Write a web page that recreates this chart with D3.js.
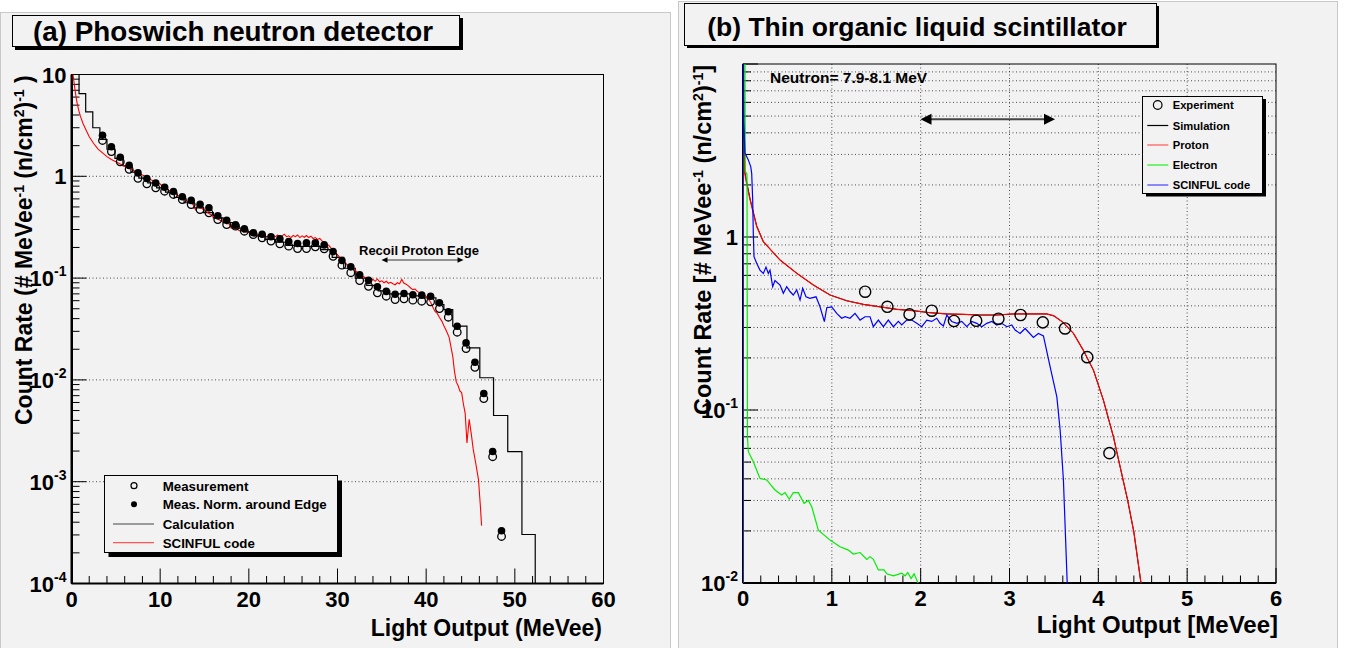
<!DOCTYPE html>
<html>
<head>
<meta charset="utf-8">
<script src="https://cdn.jsdelivr.net/npm/d3@7"></script>
<style>
body { margin: 0; background: #fff; }
text { font-family: "Liberation Sans", Arial, Helvetica, sans-serif; font-weight: bold; fill: #000; }
</style>
</head>
<body>
<div id="chart"></div>
<script>
// ---------- panel (a): phoswich ----------
let measX = [3.5, 4.5, 5.5, 6.5, 7.5, 8.5, 9.5, 10.5, 11.5, 12.5, 13.5, 14.5, 15.5, 16.5, 17.5, 18.5,
  19.5, 20.5, 21.5, 22.5, 23.5, 24.5, 25.5, 26.5, 27.5, 28.5, 29.5, 30.5, 31.5, 32.5, 33.5, 34.5,
  35.5, 36.5, 37.5, 38.5, 39.5, 40.5, 41.5, 42.5, 43.5, 44.5, 45.5, 46.5, 47.5, 48.5];
let measY = [2.25, 1.75, 1.39, 1.17, 0.957, 0.843, 0.771, 0.714, 0.663, 0.591, 0.528, 0.472, 0.438, 0.376,
  0.336, 0.324, 0.289, 0.268, 0.249, 0.231, 0.217, 0.206, 0.195, 0.195, 0.203, 0.194, 0.164, 0.134,
  0.113, 0.0946, 0.0832, 0.0716, 0.0664, 0.0616, 0.0626, 0.0607, 0.0593, 0.0585, 0.0502, 0.0413,
  0.0294, 0.0203, 0.0133, 0.00656, 0.00176, 0.00029];
let normY = [2.53, 1.95, 1.54, 1.28, 1.08, 0.95, 0.86, 0.78, 0.71, 0.63, 0.58, 0.53, 0.49, 0.41, 0.37,
  0.333, 0.305, 0.279, 0.27, 0.255, 0.243, 0.229, 0.219, 0.222, 0.222, 0.212, 0.182, 0.149, 0.129,
  0.108, 0.095, 0.082, 0.074, 0.0695, 0.0706, 0.0686, 0.068, 0.0664, 0.0571, 0.0467, 0.0337, 0.0231,
  0.0149, 0.00735, 0.00198, 0.00033];

// calculation histogram: [low edge, high edge, value]
let calcBins = [
  [0.1, 0.85, 12], [0.85, 1.6, 6.5], [1.6, 2.4, 4.3], [2.4, 3.2, 3.0], [3.2, 4.0, 2.3], [4.0, 4.9, 1.85],
  [4.9, 5.8, 1.5], [5.8, 6.7, 1.27], [6.7, 7.6, 1.1], [7.6, 8.6, 0.96], [8.6, 9.6, 0.86], [9.6, 10.6, 0.77],
  [10.6, 11.6, 0.70], [11.6, 12.7, 0.62], [12.7, 13.8, 0.55], [13.8, 14.9, 0.49], [14.9, 16.0, 0.44],
  [16.0, 17.1, 0.39], [17.1, 18.2, 0.35], [18.2, 19.4, 0.31], [19.4, 20.6, 0.285], [20.6, 21.8, 0.26],
  [21.8, 23.0, 0.24], [23.0, 24.2, 0.225], [24.2, 25.5, 0.21], [25.5, 26.8, 0.205], [26.8, 28.1, 0.205],
  [28.1, 29.4, 0.19], [29.4, 30.7, 0.16], [30.7, 32.0, 0.125], [32.0, 33.3, 0.10], [33.3, 34.6, 0.085],
  [34.6, 35.9, 0.075], [35.9, 37.2, 0.07], [37.2, 38.5, 0.07], [38.5, 39.8, 0.067], [39.8, 41.1, 0.064],
  [41.1, 42.0, 0.055], [42.0, 43.0, 0.049], [43.0, 44.6, 0.0337], [44.6, 46.05, 0.0206],
  [46.05, 47.6, 0.0105], [47.6, 49.2, 0.00447], [49.2, 50.8, 0.00197], [50.8, 52.3, 0.000303]
];

// SCINFUL code (a): [light output, rate]
let scinfulA = [
  [0.15, 10.5], [0.2, 9.5], [0.4, 7.0], [0.6, 5.4], [0.8, 4.5], [1.0, 3.9], [1.3, 3.3], [1.6, 2.9], [2.0, 2.45],
  [2.5, 2.1], [3.0, 1.85], [3.5, 1.7], [4.0, 1.56], [4.5, 1.46], [5.0, 1.39], [5.5, 1.32], [6.0, 1.25],
  [6.5, 1.2], [7.0, 1.14], [7.5, 1.08], [8.0, 1.03], [8.5, 0.98], [9.0, 0.92], [9.5, 0.88],
  [10.0, 0.84], [10.25, 0.80], [10.5, 0.79], [10.75, 0.77], [11.0, 0.72], [11.25, 0.73], [11.5, 0.69],
  [11.75, 0.68], [12.0, 0.64], [12.25, 0.65], [12.5, 0.61], [12.75, 0.60], [13.0, 0.57], [13.25, 0.56],
  [13.5, 0.55], [13.75, 0.52], [14.0, 0.47], [14.25, 0.53], [14.5, 0.49], [14.75, 0.48], [15.0, 0.46],
  [15.25, 0.45], [15.5, 0.43], [15.75, 0.42], [16.0, 0.40], [16.25, 0.41], [16.5, 0.38], [16.75, 0.37],
  [17.0, 0.36], [17.25, 0.36], [17.5, 0.34], [17.75, 0.345], [18.0, 0.31], [18.25, 0.335], [18.5, 0.305],
  [18.75, 0.30], [19.0, 0.29], [19.25, 0.31], [19.5, 0.29], [19.75, 0.285], [20.0, 0.28], [20.25, 0.275],
  [20.5, 0.28], [20.75, 0.265], [21.0, 0.265], [21.25, 0.27], [21.5, 0.255], [21.75, 0.262], [22.0, 0.255],
  [22.25, 0.26], [22.5, 0.25], [22.75, 0.262], [23.0, 0.255], [23.25, 0.265], [23.5, 0.25], [23.75, 0.26],
  [24.0, 0.27], [24.25, 0.255], [24.5, 0.26], [24.75, 0.25], [25.0, 0.262], [25.25, 0.255], [25.5, 0.265],
  [25.75, 0.25], [26.0, 0.26], [26.25, 0.252], [26.5, 0.262], [26.75, 0.25], [27.0, 0.258], [27.25, 0.245],
  [27.5, 0.25], [27.75, 0.24], [28.0, 0.245], [28.25, 0.232], [28.5, 0.225], [28.75, 0.215], [29.0, 0.21],
  [29.25, 0.198], [29.5, 0.19], [29.75, 0.178], [30.0, 0.17], [30.25, 0.16], [30.5, 0.152], [30.75, 0.145],
  [31.0, 0.138], [31.25, 0.132], [31.5, 0.128], [31.75, 0.122], [32.0, 0.12], [32.25, 0.112], [32.5, 0.11],
  [32.75, 0.104], [33.0, 0.103], [33.25, 0.099], [33.5, 0.101], [33.75, 0.096], [34.0, 0.097], [34.25, 0.093],
  [34.5, 0.098], [34.75, 0.092], [35.0, 0.094], [35.25, 0.09], [35.5, 0.093], [35.75, 0.089], [36.0, 0.091],
  [36.25, 0.088], [36.5, 0.086], [36.75, 0.09], [37.0, 0.088], [37.25, 0.097], [37.5, 0.089], [37.75, 0.087],
  [38.0, 0.084], [38.25, 0.08], [38.5, 0.077], [38.75, 0.078], [39.0, 0.074], [39.25, 0.072], [39.5, 0.07],
  [39.75, 0.068], [40.0, 0.066], [40.25, 0.062], [40.5, 0.058], [40.75, 0.052], [41.0, 0.047], [41.25, 0.045],
  [41.5, 0.041], [41.75, 0.038], [42.0, 0.034], [42.3, 0.030], [42.6, 0.026], [42.8, 0.021], [43.0, 0.017],
  [43.2, 0.012], [43.4, 0.0095], [43.6, 0.0088], [43.8, 0.0078], [44.0, 0.0075], [44.2, 0.0058],
  [44.4, 0.0047], [44.6, 0.0024], [44.85, 0.0041], [45.1, 0.0029], [45.3, 0.0021], [45.6, 0.0015],
  [45.9, 0.00105], [46.1, 0.0006], [46.25, 0.00037]
];

let aXTicks = [0, 10, 20, 30, 40, 50, 60];
let aYTicks = [10, 1, 0.1, 0.01, 0.001, 0.0001];
let aLegend = ["Measurement", "Meas. Norm. around Edge", "Calculation", "SCINFUL code"];

// ---------- panel (b): liquid scintillator ----------
let expX = [1.375, 1.625, 1.875, 2.125, 2.375, 2.625, 2.875, 3.125, 3.375, 3.625, 3.875, 4.125];
let expY = [0.483, 0.395, 0.357, 0.375, 0.327, 0.328, 0.337, 0.354, 0.321, 0.296, 0.202, 0.0563];

let protonB = [
  [0, 0.009], [0.003, 4.5], [0.02, 2.33], [0.04, 2.04], [0.08, 1.64], [0.154, 1.15], [0.229, 0.94],
  [0.417, 0.736], [0.605, 0.617], [0.792, 0.528], [0.98, 0.462], [1.168, 0.428], [1.355, 0.408],
  [1.543, 0.395], [1.731, 0.382], [1.918, 0.375], [2.106, 0.365], [2.294, 0.359], [2.481, 0.357],
  [2.669, 0.354], [2.857, 0.354], [3.044, 0.359], [3.232, 0.359], [3.42, 0.359], [3.5, 0.35], [3.6, 0.322],
  [3.72, 0.277], [3.83, 0.222], [3.945, 0.170], [4.057, 0.114], [4.17, 0.070], [4.245, 0.047],
  [4.33, 0.0301], [4.40, 0.0197], [4.48, 0.010], [4.52, 0.008]
];
let simulationB = [
  [0, 0.009], [0.001, 20], [0.006, 20], [0.01, 4.6], [0.02, 2.4], [0.04, 2.1], [0.08, 1.66], [0.154, 1.16],
  [0.229, 0.94], [0.417, 0.736], [0.605, 0.617], [0.792, 0.528], [0.98, 0.462], [1.168, 0.428],
  [1.355, 0.408], [1.543, 0.395], [1.731, 0.382], [1.918, 0.375], [2.106, 0.365], [2.294, 0.359],
  [2.481, 0.357], [2.669, 0.354], [2.857, 0.354], [3.044, 0.359], [3.232, 0.359], [3.42, 0.359],
  [3.5, 0.35], [3.6, 0.322], [3.72, 0.277], [3.83, 0.222], [3.945, 0.170], [4.057, 0.114], [4.17, 0.070],
  [4.245, 0.047], [4.33, 0.0301], [4.40, 0.0197], [4.48, 0.010], [4.52, 0.008]
];
let electronB = [
  [0, 0.009], [0.001, 20], [0.02, 20], [0.026, 2.4], [0.045, 2.3], [0.05, 0.07], [0.06, 0.0574],
  [0.116, 0.0502], [0.19, 0.0403], [0.267, 0.0394], [0.36, 0.0345], [0.436, 0.0323], [0.473, 0.0333],
  [0.521, 0.0305], [0.566, 0.0333], [0.623, 0.0333], [0.687, 0.0289], [0.735, 0.030], [0.774, 0.0276],
  [0.848, 0.0202], [0.98, 0.0177], [1.092, 0.0162], [1.186, 0.0155], [1.242, 0.0147], [1.318, 0.0150],
  [1.393, 0.0137], [1.43, 0.0142], [1.467, 0.0137], [1.524, 0.0119], [1.588, 0.0119], [1.618, 0.0113],
  [1.693, 0.0110], [1.787, 0.0114], [1.824, 0.0110], [1.855, 0.0115], [1.892, 0.0106], [1.926, 0.0113],
  [1.974, 0.0099]
];
let scinfulB = [
  [0, 0.009], [0.002, 20], [0.008, 4.6], [0.0225, 3.05], [0.06, 2.79], [0.087, 2.55], [0.098, 2.33],
  [0.109, 1.64], [0.116, 1.05], [0.124, 0.769], [0.154, 0.705], [0.191, 0.644], [0.229, 0.616],
  [0.259, 0.67], [0.285, 0.616], [0.304, 0.644], [0.334, 0.516], [0.36, 0.56], [0.417, 0.528],
  [0.454, 0.473], [0.492, 0.516], [0.529, 0.484], [0.566, 0.462], [0.605, 0.495], [0.642, 0.432],
  [0.672, 0.505], [0.709, 0.451], [0.754, 0.442], [0.822, 0.451], [0.867, 0.395], [0.916, 0.324],
  [0.943, 0.390], [0.999, 0.395], [1.055, 0.362], [1.111, 0.339], [1.149, 0.346], [1.205, 0.339],
  [1.261, 0.362], [1.318, 0.331], [1.374, 0.346], [1.430, 0.346], [1.467, 0.303], [1.524, 0.331],
  [1.580, 0.303], [1.636, 0.331], [1.693, 0.303], [1.749, 0.325], [1.787, 0.310], [1.843, 0.331],
  [1.9, 0.331], [1.956, 0.317], [2.012, 0.303], [2.069, 0.331], [2.125, 0.325], [2.181, 0.339],
  [2.218, 0.317], [2.256, 0.306], [2.294, 0.354], [2.35, 0.325], [2.407, 0.317], [2.463, 0.325],
  [2.519, 0.303], [2.575, 0.325], [2.632, 0.317], [2.688, 0.303], [2.744, 0.317], [2.801, 0.325],
  [2.857, 0.310], [2.913, 0.317], [2.970, 0.303], [3.026, 0.310], [3.063, 0.290], [3.119, 0.277],
  [3.176, 0.296], [3.269, 0.263], [3.325, 0.277], [3.382, 0.268], [3.457, 0.178], [3.533, 0.119],
  [3.57, 0.0766], [3.607, 0.0394], [3.65, 0.0099]
];

let bXTicks = [0, 1, 2, 3, 4, 5, 6];
let bYTicks = [1, 0.1, 0.01];
let bLegend = ["Experiment", "Simulation", "Proton", "Electron", "SCINFUL code"];

// ---------- drawing ----------
const W = 1345, H = 648;
let svg = d3.select("#chart").append("svg").attr("width", W).attr("height", H);
let defs = svg.append("defs");

svg.append("rect").attr("x", 0.5).attr("y", 12.5).attr("width", 670).attr("height", 640)
  .attr("fill", "#f2f2f2").attr("stroke", "#c8c8c8");
svg.append("rect").attr("x", 678.5).attr("y", 1.5).attr("width", 659).attr("height", 650)
  .attr("fill", "#f2f2f2").attr("stroke", "#c8c8c8");

// text made of plain and superscript pieces
function addSupText(t, parts, supSize, raise) {
  let prevSup = false;
  parts.forEach(p => {
    let sup = p[1];
    let dy = 0;
    if (sup && !prevSup) dy = -raise;
    if (!sup && prevSup) dy = raise;
    t.append("tspan")
      .attr("font-size", sup ? supSize : null)
      .attr("dy", dy)
      .text(p[0]);
    prevSup = sup;
  });
}

function makePanel(p) {
  let x = d3.scaleLinear().domain(p.xDomain).range([p.left, p.right]);
  let y = d3.scaleLog().domain(p.yDomain).range([p.bottom, p.top]);
  let g = svg.append("g");

  defs.append("clipPath").attr("id", p.id)
    .append("rect").attr("x", p.left).attr("y", p.top)
    .attr("width", p.right - p.left).attr("height", p.bottom - p.top);

  let yTicks = y.ticks();
  let grid = g.append("g").attr("stroke", "#222").attr("stroke-width", 0.8)
    .attr("stroke-dasharray", "1,2.5");
  yTicks.filter(v => p.gridAll || Number.isInteger(Math.log10(v)))
    .filter(v => y(v) < p.bottom - 1 && y(v) > p.top + 1)
    .forEach(v => {
      grid.append("line").attr("x1", p.left).attr("x2", p.right).attr("y1", y(v)).attr("y2", y(v));
    });
  if (p.gridX) {
    p.xTicks.filter(v => v > p.xDomain[0] && v < p.xDomain[1]).forEach(v => {
      grid.append("line").attr("x1", x(v)).attr("x2", x(v)).attr("y1", p.top).attr("y2", p.bottom);
    });
  }

  // frame
  g.append("rect").attr("x", p.left).attr("y", p.top)
    .attr("width", p.right - p.left).attr("height", p.bottom - p.top)
    .attr("fill", "none").attr("stroke", "#000").attr("stroke-width", 1);

  // y ticks
  let ax = g.append("g").attr("stroke", "#000").attr("stroke-width", 1);
  yTicks.forEach(v => {
    let major = Math.abs(Math.log10(v) - Math.round(Math.log10(v))) < 1e-6;
    ax.append("line").attr("x1", p.left).attr("x2", p.left + (major ? 15 : 8))
      .attr("y1", y(v)).attr("y2", y(v));
  });
  // x ticks
  let minor = x.ticks(p.minorCount);
  minor.forEach(v => {
    let major = p.xTicks.indexOf(v) >= 0;
    ax.append("line").attr("x1", x(v)).attr("x2", x(v))
      .attr("y1", p.bottom).attr("y2", p.bottom - (major ? 15 : 7.5));
  });
  g.append("line").attr("x1", p.left).attr("x2", p.right).attr("y1", p.bottom).attr("y2", p.bottom)
    .attr("stroke", "#000").attr("stroke-width", 2);
  g.append("line").attr("x1", p.left).attr("x2", p.left).attr("y1", p.top).attr("y2", p.bottom)
    .attr("stroke", "#000").attr("stroke-width", 2);

  // tick labels
  p.xTicks.forEach(v => {
    g.append("text").attr("x", x(v)).attr("y", p.bottom + 23).attr("text-anchor", "middle")
      .attr("font-size", 22).text(v);
  });
  p.yTicks.forEach(v => {
    let e = Math.round(Math.log10(v));
    let t = g.append("text").attr("x", p.left - 5).attr("y", y(v) + 8).attr("text-anchor", "end")
      .attr("font-size", 22);
    if (e === 0) t.text("1");
    else if (e === 1) t.text("10");
    else addSupText(t, [["10", false], [String(e), true]], 14, 10);
  });

  let plot = g.append("g").attr("clip-path", "url(#" + p.id + ")");
  return {x: x, y: y, g: g, plot: plot};
}

// ----- panel a -----
let A = makePanel({
  id: "clipA", left: 71.5, right: 603.5, top: 74.5, bottom: 583.5,
  xDomain: [0, 60], yDomain: [0.0001, 10], xTicks: aXTicks, yTicks: aYTicks,
  minorCount: 30, gridAll: false, gridX: false
});

let histPts = [[calcBins[0][0], 0.0001]];
calcBins.forEach(b => { histPts.push([b[0], b[2]]); histPts.push([b[1], b[2]]); });
histPts.push([calcBins[calcBins.length - 1][1], 0.0001]);

let lineA = d3.line().x(d => A.x(d[0])).y(d => A.y(d[1]));
A.plot.append("path").attr("d", lineA(histPts))
  .attr("fill", "none").attr("stroke", "#000").attr("stroke-width", 1.2);
A.plot.append("path").attr("d", lineA(scinfulA))
  .attr("fill", "none").attr("stroke", "#ff0000").attr("stroke-width", 1.1);

A.plot.selectAll(".meas").data(measX).enter().append("circle")
  .attr("cx", (d, i) => A.x(d)).attr("cy", (d, i) => A.y(measY[i])).attr("r", 3.8)
  .attr("fill", "none").attr("stroke", "#000").attr("stroke-width", 1.3);
A.plot.selectAll(".norm").data(measX).enter().append("circle")
  .attr("cx", (d, i) => A.x(d)).attr("cy", (d, i) => A.y(normY[i])).attr("r", 3.8)
  .attr("fill", "#000");

// recoil proton edge arrow
function dblArrow(g, x1, x2, yy, head, halfH, width, color) {
  g.append("line").attr("x1", x1 + head * 0.6).attr("x2", x2 - head * 0.6).attr("y1", yy).attr("y2", yy)
    .attr("stroke", color).attr("stroke-width", width);
  g.append("path").attr("d", `M${x1},${yy}L${x1 + head},${yy - halfH}L${x1 + head},${yy + halfH}Z`).attr("fill", "#000");
  g.append("path").attr("d", `M${x2},${yy}L${x2 - head},${yy - halfH}L${x2 - head},${yy + halfH}Z`).attr("fill", "#000");
}
A.g.append("text").attr("x", 359).attr("y", 254.5).attr("font-size", 13).text("Recoil Proton Edge");
dblArrow(A.g, 381.5, 463.5, 260, 6, 2.8, 1, "#333");

// axis titles a
A.g.append("text").attr("x", 602).attr("y", 636).attr("text-anchor", "end").attr("font-size", 23)
  .text("Light Output (MeVee)");
let ytA = A.g.append("text").attr("transform", "translate(32,425) rotate(-90)").attr("font-size", 23);
addSupText(ytA, [["Count Rate (# MeVee", false], ["-1", true], [" (n/cm", false], ["2", true],
  [")", false], ["-1", true], [" )", false]], 14, 8);

// legend a
let lgA = A.g.append("g");
lgA.append("rect").attr("x", 108.5).attr("y", 480.5).attr("width", 233.5).attr("height", 76.5).attr("fill", "#000");
lgA.append("rect").attr("x", 104.5).attr("y", 475.5).attr("width", 233).attr("height", 77)
  .attr("fill", "#f2f2f2").attr("stroke", "#000").attr("stroke-width", 1);
let lgAy = [485.7, 504.3, 524, 542.7];
lgA.append("circle").attr("cx", 134).attr("cy", lgAy[0]).attr("r", 3).attr("fill", "none")
  .attr("stroke", "#000").attr("stroke-width", 1.2);
lgA.append("circle").attr("cx", 134).attr("cy", lgAy[1]).attr("r", 3).attr("fill", "#000");
lgA.append("line").attr("x1", 113).attr("x2", 154).attr("y1", lgAy[2]).attr("y2", lgAy[2])
  .attr("stroke", "#444").attr("stroke-width", 1.2);
lgA.append("line").attr("x1", 113).attr("x2", 154).attr("y1", lgAy[3]).attr("y2", lgAy[3])
  .attr("stroke", "#ff5555").attr("stroke-width", 1.2);
aLegend.forEach((s, i) => {
  lgA.append("text").attr("x", 162.7).attr("y", lgAy[i] + 4.8).attr("font-size", 13.3).text(s);
});

// title a
svg.append("rect").attr("x", 15).attr("y", 18).attr("width", 448).attr("height", 32).attr("fill", "#000");
svg.append("rect").attr("x", 12.5).attr("y", 15.5).attr("width", 447).attr("height", 31)
  .attr("fill", "#f2f2f2").attr("stroke", "#000").attr("stroke-width", 1);
svg.append("text").attr("x", 33).attr("y", 41).attr("font-size", 27.8)
  .text("(a) Phoswich neutron detector");

// ----- panel b -----
let B = makePanel({
  id: "clipB", left: 743, right: 1276, top: 64, bottom: 583,
  xDomain: [0, 6], yDomain: [0.01, 10], xTicks: bXTicks, yTicks: bYTicks,
  minorCount: 30, gridAll: true, gridX: true
});
let lineB = d3.line().x(d => B.x(d[0])).y(d => B.y(d[1]));
B.plot.append("path").attr("d", lineB(simulationB)).attr("fill", "none").attr("stroke", "#000").attr("stroke-width", 1);
B.plot.append("path").attr("d", lineB(protonB)).attr("fill", "none").attr("stroke", "#ff0000").attr("stroke-width", 1.2);
B.plot.append("path").attr("d", lineB(electronB)).attr("fill", "none").attr("stroke", "#00ee00").attr("stroke-width", 1.2);
B.plot.append("path").attr("d", lineB(scinfulB)).attr("fill", "none").attr("stroke", "#0000ff").attr("stroke-width", 1.2);
B.plot.selectAll(".exp").data(expX).enter().append("circle")
  .attr("cx", d => B.x(d)).attr("cy", (d, i) => B.y(expY[i])).attr("r", 5.6)
  .attr("fill", "none").attr("stroke", "#000").attr("stroke-width", 1.4);

B.g.append("text").attr("x", 770).attr("y", 83).attr("font-size", 15.5).text("Neutron= 7.9-8.1 MeV");
dblArrow(B.g, 920.5, 1055, 119.3, 11, 5.5, 2, "#444");

// legend b
let lgB = B.g.append("g");
lgB.append("rect").attr("x", 1146).attr("y", 99).attr("width", 120).attr("height", 97.5).attr("fill", "#000");
lgB.append("rect").attr("x", 1142.5).attr("y", 96.5).attr("width", 120).attr("height", 97)
  .attr("fill", "#f2f2f2").attr("stroke", "#000").attr("stroke-width", 1);
let lgBy = [105, 125.5, 145, 165, 185];
let lgBc = [null, "#000", "#ff5555", "#22ee22", "#4444ff"];
lgB.append("circle").attr("cx", 1157.7).attr("cy", lgBy[0]).attr("r", 4.3).attr("fill", "none")
  .attr("stroke", "#000").attr("stroke-width", 1.2);
bLegend.forEach((s, i) => {
  if (i > 0) {
    lgB.append("line").attr("x1", 1147.3).attr("x2", 1168.3).attr("y1", lgBy[i]).attr("y2", lgBy[i])
      .attr("stroke", lgBc[i]).attr("stroke-width", 1.2);
  }
  lgB.append("text").attr("x", 1172.7).attr("y", lgBy[i] + 4).attr("font-size", 11.2).text(s);
});

// axis titles b
B.g.append("text").attr("x", 1278).attr("y", 633).attr("text-anchor", "end").attr("font-size", 24)
  .text("Light Output [MeVee]");
let ytB = B.g.append("text").attr("transform", "translate(711,415) rotate(-90)").attr("font-size", 23.5);
addSupText(ytB, [["Count Rate [# MeVee", false], ["-1", true], [" (n/cm", false], ["2", true],
  [")", false], ["-1", true], ["]", false]], 14, 8);

// title b
svg.append("rect").attr("x", 687).attr("y", 6).attr("width", 472).attr("height", 42).attr("fill", "#000");
svg.append("rect").attr("x", 684.5).attr("y", 3.5).attr("width", 472).attr("height", 42)
  .attr("fill", "#f2f2f2").attr("stroke", "#000").attr("stroke-width", 1);
svg.append("text").attr("x", 917).attr("y", 36).attr("text-anchor", "middle").attr("font-size", 26.5)
  .text("(b) Thin organic liquid scintillator");
</script>
</body>
</html>
